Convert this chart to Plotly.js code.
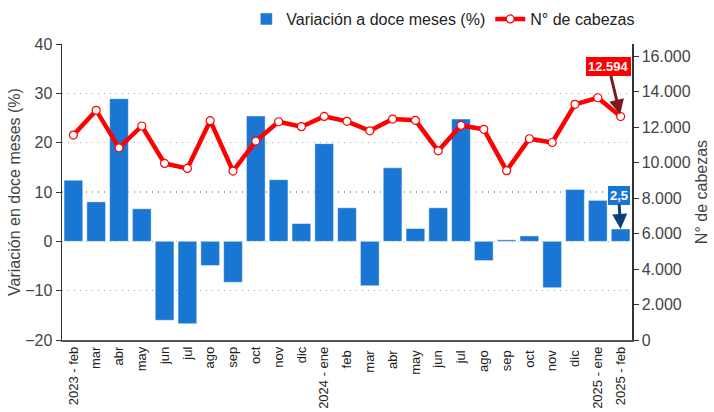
<!DOCTYPE html>
<html>
<head>
<meta charset="utf-8">
<script src="https://cdn.plot.ly/plotly-3.0.1.min.js"></script>
<style>html,body{margin:0;padding:0;background:#fff;}#chart{width:714px;height:412px;}</style>
</head>
<body>
<div id="chart"></div>
<script>
const categories = ["2023 - feb","mar","abr","may","jun","jul","ago","sep","oct","nov","dic",
  "2024 - ene","feb ","mar ","abr ","may ","jun ","jul ","ago ","sep ","oct ","nov ","dic ",
  "2025 - ene","2025 - feb"];
const variacion = [12.4, 8.0, 28.9, 6.6, -16.0, -16.7, -4.9, -8.3, 25.4, 12.5, 3.6,
  19.8, 6.8, -9.0, 14.9, 2.6, 6.8, 24.8, -3.9, 0.3, 1.1, -9.4, 10.5, 8.3, 2.5];
const cabezas = [11550, 12940, 10830, 12060, 9950, 9670, 12360, 9520, 11210, 12300, 12020,
  12600, 12320, 11790, 12450, 12380, 10660, 12090, 11870, 9540, 11340, 11130, 13280, 13650, 12594];
const rightTicks = [0, 2000, 4000, 6000, 8000, 10000, 12000, 14000, 16000];

const lastIdx = categories.length - 1;
const fmtThousands = v => Math.round(v).toString().replace(/\B(?=(\d{3})+(?!\d))/g, ".");
const fmtDec = v => v.toFixed(1).replace(".", ",");

const traces = [
  {
    type: "bar", x: categories, y: variacion, name: "Variación a doce meses (%)",
    marker: {color: "#1976D2", line: {color: "rgba(255,255,255,0.45)", width: 1}},
    yaxis: "y", hoverinfo: "skip"
  },
  {
    type: "scatter", mode: "lines+markers", x: categories, y: cabezas, name: "N° de cabezas",
    yaxis: "y2",
    line: {color: "#FF0000", width: 4.5},
    marker: {color: "#FFFFFF", size: 8, line: {color: "#FF0000", width: 1.2}},
    hoverinfo: "skip"
  }
];

const layout = {
  width: 714, height: 412,
  margin: {l: 62, r: 82, t: 44, b: 72, autoexpand: false},
  paper_bgcolor: "#fff", plot_bgcolor: "#fff",
  separators: ",.",
  font: {family: "Liberation Sans, Arial, sans-serif", color: "#444"},
  bargap: 0.18,
  showlegend: true,
  legend: {orientation: "h", xref: "container", x: 0.345, xanchor: "left",
    yref: "container", y: 0.995, yanchor: "top",
    font: {size: 16, color: "#222"}, itemwidth: 30, traceorder: "normal"},
  xaxis: {
    type: "category", range: [-0.5, categories.length - 0.5],
    tickangle: -90, tickfont: {size: 13, color: "#222"},
    showline: true, linecolor: "#555", linewidth: 1.5, ticks: "", showgrid: false,
    automargin: false
  },
  yaxis: {
    range: [-20, 40], dtick: 10, tickfont: {size: 16, color: "#444"},
    title: {text: "Variación en doce meses (%)", font: {size: 16, color: "#444"}},
    showline: true, linecolor: "#333", linewidth: 1.5, ticks: "outside", ticklen: 5, tickcolor: "#333",
    showgrid: true, gridcolor: "#aaaaaa", griddash: "1px,5px", gridwidth: 1.2,
    zeroline: false, automargin: false
  },
  yaxis2: {
    overlaying: "y", side: "right", range: [0, 16680], tickvals: rightTicks,
    ticktext: rightTicks.map(v => v === 0 ? "0" : fmtThousands(v)),
    tickfont: {size: 16, color: "#444"},
    title: {text: "N° de cabezas", font: {size: 16, color: "#444"}},
    showline: true, linecolor: "#333", linewidth: 1.5, ticks: "outside", ticklen: 5, tickcolor: "#333",
    showgrid: false, zeroline: false, automargin: false
  },
  annotations: [
    {
      x: categories[lastIdx], y: cabezas[lastIdx], xref: "x", yref: "y2",
      text: "<b>" + fmtThousands(cabezas[lastIdx]) + "</b>",
      font: {color: "#fff", size: 13}, bgcolor: "#FF0000", borderpad: 2, borderwidth: 0,
      showarrow: true, arrowhead: 2, arrowsize: 1, arrowwidth: 3, arrowcolor: "#7B1A1A",
      ax: -12, ay: -50, standoff: 2
    },
    {
      x: categories[lastIdx], y: variacion[lastIdx], xref: "x", yref: "y",
      text: "<b>" + fmtDec(variacion[lastIdx]) + "</b>",
      font: {color: "#fff", size: 13}, bgcolor: "#1976D2", borderpad: 2, borderwidth: 0,
      showarrow: true, arrowhead: 2, arrowsize: 1, arrowwidth: 3, arrowcolor: "#0D3F7A",
      ax: -2, ay: -34, standoff: 0
    }
  ]
};

Plotly.newPlot("chart", traces, layout, {staticPlot: true, displayModeBar: false});
</script>
</body>
</html>
